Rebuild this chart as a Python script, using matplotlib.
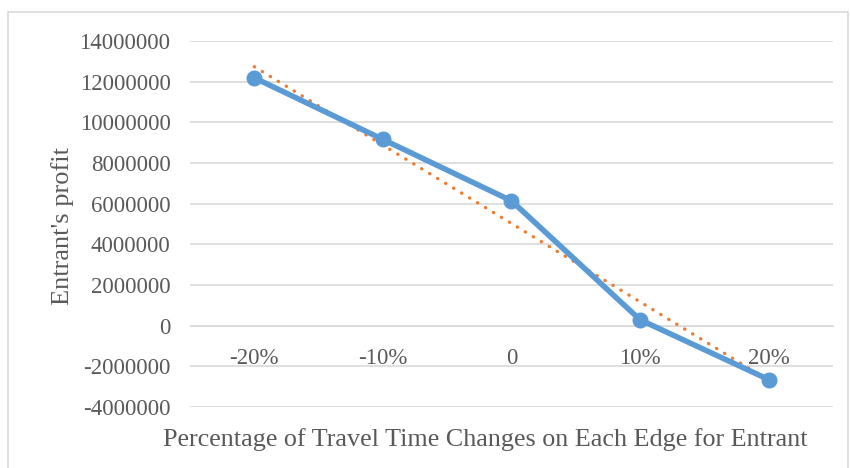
import numpy as np
import matplotlib
matplotlib.use("Agg")
import matplotlib.pyplot as plt
from matplotlib.patches import Rectangle

#%% DATA
categories = ["-20%", "-10%", "0", "10%", "20%"]
profit = [12190000, 9160000, 6140000, 290000, -2650000]
yticks = [-4000000, -2000000, 0, 2000000, 4000000, 6000000,
          8000000, 10000000, 12000000, 14000000]

#%% PLOT
plt.rcParams['font.family'] = ['Liberation Serif', 'DejaVu Serif']
TXT = '#595959'

fig = plt.figure(figsize=(8.5, 4.68), dpi=100)
ax = fig.add_axes([0.2235, 0.1303, 0.7565, 0.7821])

x = np.arange(1, len(categories) + 1)
# linear trendline (Excel style), fitted to the series
k, b = np.polyfit(x, profit, 1)
ax.plot(x, k * x + b, color='#ED7D31', lw=2.4, ls=(0, (0.1, 2.7)),
        dash_capstyle='round', zorder=3)
ax.plot(x, profit, color='#5B9BD5', lw=4.0, marker='o', ms=10.5,
        solid_capstyle='round', zorder=4)

ax.set_xlim(0.5, len(categories) + 0.5)
ax.set_ylim(-4000000, 14000000)
ax.set_yticks(yticks)
ax.set_yticklabels([str(v) for v in yticks])
ax.set_xticks(x)
ax.set_xticklabels(categories)
ax.yaxis.grid(True, color='#D9D9D9', lw=1.2)
ax.set_axisbelow(True)
for s in ['top', 'right', 'left']:
    ax.spines[s].set_visible(False)
ax.spines['bottom'].set_position(('data', 0))
ax.spines['bottom'].set_color('#D9D9D9')
ax.tick_params(axis='both', length=0, labelsize=16.5, colors=TXT)
ax.tick_params(axis='y', pad=14)
ax.tick_params(axis='x', pad=16)

fig.text(0.571, 0.06, 'Percentage of Travel Time Changes on Each Edge for Entrant',
         ha='center', va='center', fontsize=18.8, color=TXT)
fig.text(0.073, 0.517, "Entrant's profit", rotation=90,
         ha='center', va='center', fontsize=19, color=TXT)

fig.patches.append(Rectangle((0.009, -0.01), 0.989, 0.985, transform=fig.transFigure,
                             fill=False, edgecolor='#D9D9D9', lw=1.2))

fig.savefig('out.png', dpi=100)
